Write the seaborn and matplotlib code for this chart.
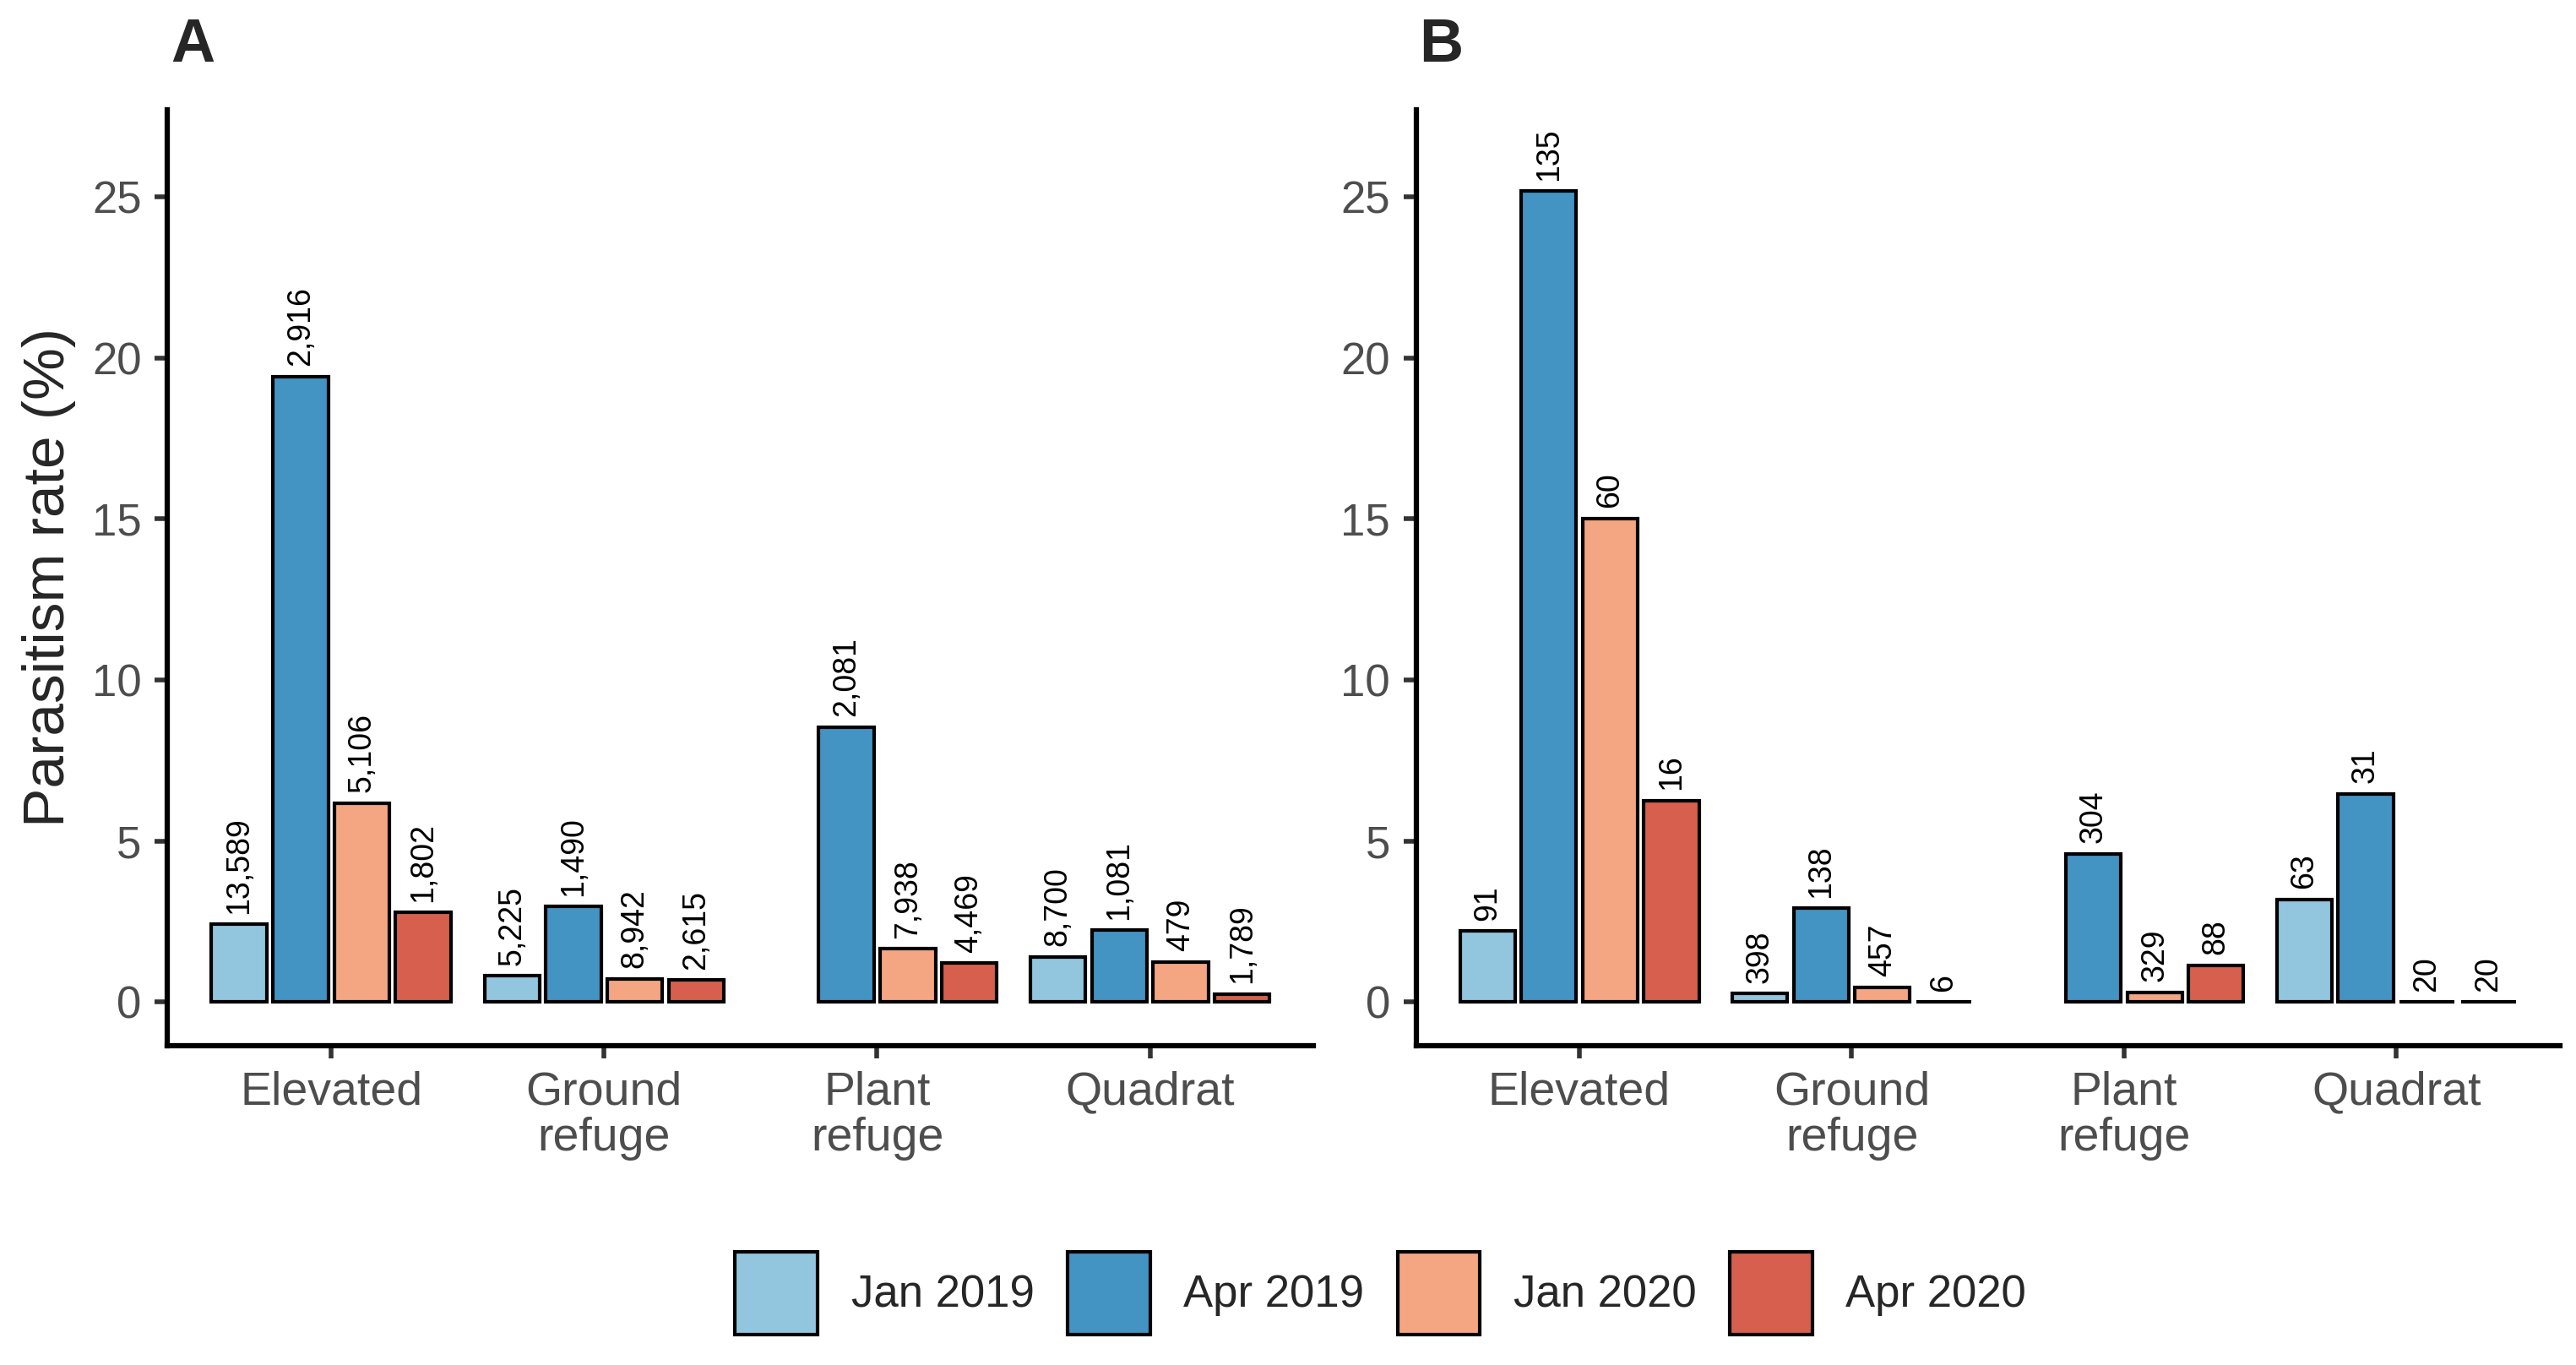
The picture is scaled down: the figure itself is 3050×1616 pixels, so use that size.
import numpy as np
import pandas as pd
import matplotlib
matplotlib.use("Agg")
import matplotlib.pyplot as plt
import seaborn as sns

# data
sites = ["Elevated", "Ground\nrefuge", "Plant\nrefuge", "Quadrat"]
surveys = ["Jan 2019", "Apr 2019", "Jan 2020", "Apr 2020"]
colors = ["#92C5DE", "#4393C3", "#F4A582", "#D6604D"]

# panel A, rate (%) per survey, in site order
rate_a_jan19 = [2.42, 0.81, np.nan, 1.40]
rate_a_apr19 = [19.42, 2.96, 8.54, 2.23]
rate_a_jan20 = [6.18, 0.73, 1.65, 1.25]
rate_a_apr20 = [2.78, 0.69, 1.21, 0.25]
n_a_jan19 = ["13,589", "5,225", "", "8,700"]
n_a_apr19 = ["2,916", "1,490", "2,081", "1,081"]
n_a_jan20 = ["5,106", "8,942", "7,938", "479"]
n_a_apr20 = ["1,802", "2,615", "4,469", "1,789"]

# panel B
rate_b_jan19 = [2.21, 0.27, np.nan, 3.19]
rate_b_apr19 = [25.18, 2.92, 4.61, 6.47]
rate_b_jan20 = [15.01, 0.46, 0.31, 0.0]
rate_b_apr20 = [6.26, 0.0, 1.15, 0.0]
n_b_jan19 = ["91", "398", "", "63"]
n_b_apr19 = ["135", "138", "304", "31"]
n_b_jan20 = ["60", "457", "329", "20"]
n_b_apr20 = ["16", "6", "88", "20"]


def make_df(rates, counts):
    rows = []
    for survey, r, c in zip(surveys, rates, counts):
        for site, val, lab in zip(sites, r, c):
            rows.append({"site": site, "survey": survey, "rate": val, "n": lab})
    return pd.DataFrame(rows)


df_a = make_df([rate_a_jan19, rate_a_apr19, rate_a_jan20, rate_a_apr20],
               [n_a_jan19, n_a_apr19, n_a_jan20, n_a_apr20])
df_b = make_df([rate_b_jan19, rate_b_apr19, rate_b_jan20, rate_b_apr20],
               [n_b_jan19, n_b_apr19, n_b_jan20, n_b_apr20])

sns.set_style("ticks")
plt.rcParams["font.family"] = ["Liberation Sans", "DejaVu Sans"]

fig = plt.figure(figsize=(30.5, 16.16), dpi=100)
ax_a = fig.add_axes([0.065, 0.234, 0.445, 0.6856])
ax_b = fig.add_axes([0.5497, 0.234, 0.444, 0.6856])

for ax, df in [(ax_a, df_a), (ax_b, df_b)]:
    sns.barplot(
        data=df, x="site", y="rate", hue="survey",
        order=sites, hue_order=surveys, palette=colors,
        saturation=1, edgecolor="black", linewidth=3,
        width=0.9, gap=0.1, errorbar=None, legend=False, ax=ax,
    )
    # count labels above bars
    for cont, survey in zip(ax.containers, surveys):
        sub = df[(df.survey == survey) & df.rate.notna()]
        ax.bar_label(cont, labels=list(sub["n"]), rotation=90, padding=9,
                     fontsize=27, color="black")
    ax.set_xlim(-0.6, 3.6)
    ax.set_ylim(-1.35, 27.7)
    ax.set_yticks([0, 5, 10, 15, 20, 25])
    ax.set_xlabel("")
    ax.set_ylabel("")
    sns.despine(ax=ax)
    for s in ["left", "bottom"]:
        ax.spines[s].set_linewidth(4.5)
        ax.spines[s].set_color("black")
    ax.tick_params(axis="both", length=11, width=4, color="#333333",
                   labelcolor="#4D4D4D")
    ax.tick_params(axis="y", pad=11, labelsize=38)
    ax.tick_params(axis="x", pad=10, labelsize=40)
    for t in ax.get_xticklabels():
        t.set_linespacing(1.08)

ax_a.set_ylabel("Parasitism rate (%)", fontsize=50, labelpad=14)

fig.text(0.0662, 0.9548, "A", fontsize=52, fontweight="bold", va="baseline")
fig.text(0.5508, 0.9548, "B", fontsize=52, fontweight="bold", va="baseline")

handles = [plt.Rectangle((0, 0), 1, 1, facecolor=c, edgecolor="black", linewidth=3)
           for c in colors]
fig.legend(handles, surveys, loc="center", bbox_to_anchor=(0.536, 0.0526),
           ncol=4, frameon=False, fontsize=38, handlelength=1.85,
           handleheight=2.5, handletextpad=0.75, columnspacing=0.75)

fig.savefig("out.png", dpi=100)
